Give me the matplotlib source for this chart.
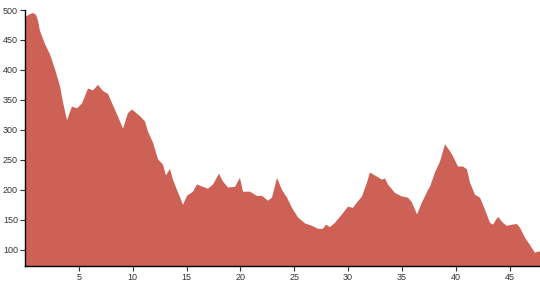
import matplotlib
matplotlib.use("Agg")
import matplotlib.pyplot as plt
import numpy as np

# distance (km) and elevation (m)
distance = [0.0, 0.46, 0.74, 1.02, 1.21, 1.39, 1.86, 2.32, 2.79, 3.25, 3.53, 3.90,
            4.36, 4.83, 5.29, 5.85, 6.31, 6.78, 7.24, 7.71, 8.17, 8.64, 9.10, 9.56,
            9.94, 10.68, 11.14, 11.42, 11.88, 12.35, 12.81, 13.09, 13.46, 13.74, 14.11,
            14.67, 15.04, 15.60, 15.97, 16.53, 16.99, 17.46, 18.01, 18.38, 18.85, 19.50,
            19.96, 20.24, 20.89, 21.54, 22.01, 22.56, 22.93, 23.40, 23.86, 24.33, 24.79,
            25.35, 26.00, 26.65, 27.21, 27.67, 27.95, 28.32, 28.78, 29.43, 29.99, 30.45,
            30.83, 31.29, 31.75, 32.03, 32.50, 33.15, 33.43, 33.70, 34.35, 35.00, 35.56,
            35.93, 36.21, 36.40, 36.86, 37.42, 37.60, 38.07, 38.53, 39.00, 39.48, 39.74,
            40.20, 40.67, 41.04, 41.32, 41.78, 42.25, 42.71, 43.18, 43.45, 43.92, 44.38,
            44.75, 45.22, 45.68, 45.96, 46.43, 46.89, 47.35, 47.63, 47.82]
elevation = [488, 493, 495, 492, 482, 465, 443, 426, 401, 373, 346, 316,
             339, 336, 344, 369, 366, 375, 365, 360, 341, 322, 302, 328,
             334, 323, 314, 297, 279, 251, 242, 224, 235, 217, 200,
             175, 190, 197, 209, 205, 202, 209, 227, 214, 204, 205,
             220, 197, 197, 190, 190, 182, 187, 220, 200, 187, 170,
             154, 144, 140, 135, 135, 142, 138, 145, 159, 172, 170,
             179, 189, 212, 229, 224, 217, 219, 209, 195, 189, 187,
             179, 167, 159, 179, 200, 205, 229, 247, 276, 264, 256,
             239, 239, 234, 212, 192, 187, 167, 145, 142, 155, 145,
             140, 142, 143, 137, 120, 108, 95, 97, 97]

x_ticks = [5, 10, 15, 20, 25, 30, 35, 40, 45]
y_ticks = [100, 150, 200, 250, 300, 350, 400, 450, 500]

plt.rcParams['font.family'] = ['Liberation Sans', 'DejaVu Sans']

fig = plt.figure(figsize=(5.4, 2.85), dpi=100)
ax = fig.add_axes([25/540, 19/285, 1 - 25/540, 256/285])

ax.fill_between(distance, elevation, 0, color='#cd6155', linewidth=0)

ax.set_xlim(0, distance[-1])
ax.set_ylim(73, 500)
ax.set_xticks(x_ticks)
ax.set_yticks(y_ticks)

for side in ['top', 'right']:
	ax.spines[side].set_visible(False)
for side in ['left', 'bottom']:
	ax.spines[side].set_color('black')
	ax.spines[side].set_linewidth(1)

ax.tick_params(axis='both', labelsize=6.5, length=3.6, width=0.8, colors='#333333', pad=1.5)

fig.savefig('out.png', dpi=100)
